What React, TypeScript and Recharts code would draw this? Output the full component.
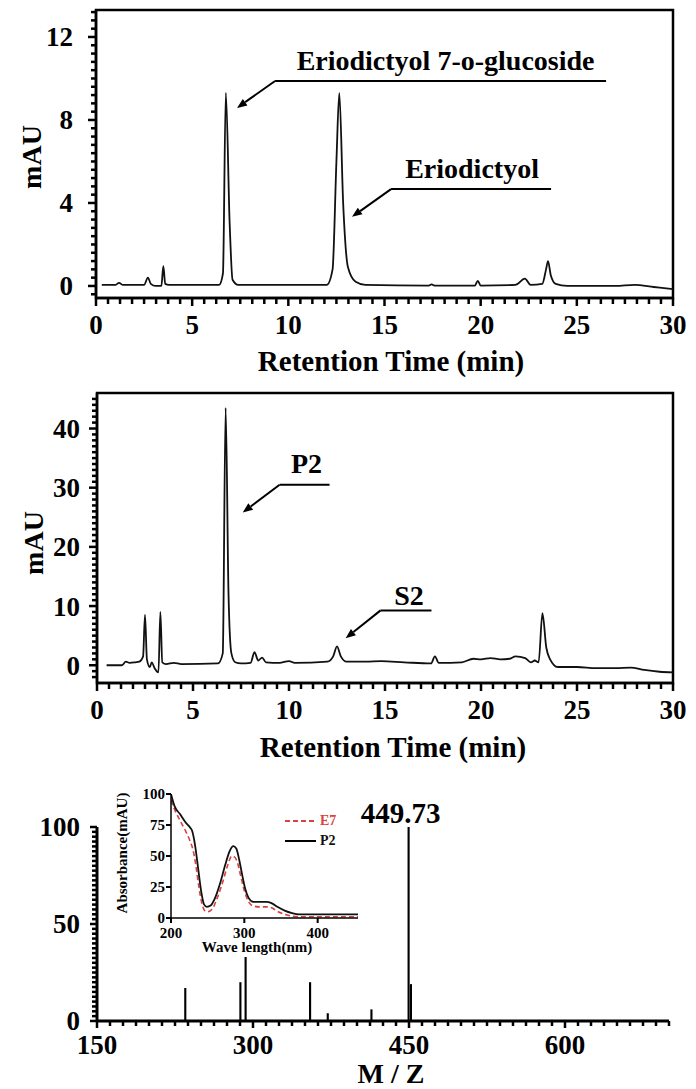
import React from "react";
import {
  LineChart,
  Line,
  BarChart,
  Bar,
  XAxis,
  YAxis,
  ReferenceArea,
  ReferenceLine,
  Legend,
} from "recharts";

const FONT = '"Liberation Serif", "Times New Roman", serif';

// standards run (E7 + eriodictyol)
const stdTime = [0.3, 1.0, 1.2, 1.4, 2.5, 2.7, 2.85, 3.1, 3.4, 3.5, 3.6, 3.8, 4.8, 6.4, 6.6, 6.75, 6.95, 7.1, 7.4, 12.0, 12.3, 12.5, 12.65, 12.85, 13.1, 13.5, 14.0, 17.3, 17.45, 17.6, 19.7, 19.85, 20.0, 21.8, 22.3, 22.6, 23.2, 23.4, 23.5, 23.65, 23.9, 24.5, 27.0, 28.0, 29.0, 30.0];
const stdMau = [0.05, 0.05, 0.15, 0.05, 0.05, 0.4, 0.1, 0.0, 0.0, 0.95, 0.1, 0.05, 0.05, 0.05, 0.6, 9.3, 3.0, 0.3, 0.05, 0.05, 0.8, 6.0, 9.3, 4.0, 0.9, 0.2, 0.05, 0.02, 0.08, 0.02, 0.02, 0.25, 0.02, 0.05, 0.35, 0.05, 0.1, 0.8, 1.2, 0.5, 0.1, 0.0, 0.0, 0.05, -0.05, -0.15];

// sample run (P2 / S2)
const smpTime = [0.5, 1.3, 1.5, 1.7, 2.0, 2.2, 2.4, 2.5, 2.6, 2.75, 2.85, 3.0, 3.2, 3.3, 3.4, 3.6, 4.0, 4.4, 6.3, 6.55, 6.7, 6.85, 7.0, 7.2, 7.5, 8.0, 8.2, 8.4, 8.6, 8.8, 9.5, 10.0, 10.3, 12.0, 12.3, 12.5, 12.7, 13.0, 14.0, 14.8, 16.0, 17.4, 17.6, 17.8, 19.0, 19.6, 20.0, 20.5, 21.0, 21.5, 21.8, 22.3, 22.6, 22.8, 23.0, 23.2, 23.4, 23.6, 24.0, 25.0, 26.0, 27.0, 27.8, 28.5, 29.3, 30.0];
const smpMau = [0.0, 0.0, 0.6, 0.4, 0.5, 0.6, 1.5, 8.5, 1.0, -0.3, 0.5, -0.5, -1.2, 9.0, 0.5, 0.2, 0.4, 0.2, 0.3, 2.0, 43.5, 12.0, 2.0, 0.5, 0.3, 0.4, 2.2, 0.8, 1.3, 0.5, 0.4, 0.7, 0.4, 0.6, 1.5, 3.2, 1.5, 0.6, 0.6, 0.7, 0.5, 0.3, 1.5, 0.4, 0.5, 1.1, 1.0, 1.2, 1.0, 1.1, 1.5, 1.2, 0.5, 0.8, 0.5, 8.8, 3.0, 1.0, -0.3, -0.3, -0.5, -0.5, -0.4, -0.8, -1.1, -1.2];

// mass spectrum
const msMz = [235, 288, 293, 355, 372, 414, 449.73, 452];
const msRel = [17, 20, 33, 20, 4, 6, 100, 19];

// inset UV spectra
const p2Wave = [200, 205, 212, 220, 226, 229, 233, 237, 241, 245, 249, 254, 260, 267, 274, 280, 285, 289, 293, 297, 301, 306, 312, 320, 330, 337, 345, 355, 365, 375, 390, 455];
const p2Abs = [100, 90, 84, 77, 73, 70, 58, 40, 22, 11, 9, 10, 16, 28, 43, 54, 58, 56, 47, 35, 24, 16, 13, 13, 13, 12, 9, 6, 4, 3, 3, 3];
const e7Wave = [200, 206, 212, 220, 226, 230, 234, 238, 242, 246, 250, 256, 263, 270, 277, 283, 287, 291, 295, 300, 305, 311, 320, 330, 338, 346, 355, 365, 380, 455];
const e7Abs = [95, 86, 79, 70, 62, 55, 42, 25, 12, 6, 5, 7, 16, 28, 42, 50, 49, 44, 34, 22, 14, 10, 9, 9, 8, 5, 3, 1.5, 1, 1];

const rtTicks = [0, 5, 10, 15, 20, 25, 30];
const stdYTicks = [0, 4, 8, 12];
const smpYTicks = [0, 10, 20, 30, 40];
const msXTicks = [150, 300, 450, 600];
const msYTicks = [0, 50, 100];
const uvXTicks = [200, 300, 400];
const uvYTicks = [0, 25, 50, 75, 100];

const uvSeries = [
  { name: "E7", color: "#d9433f", dash: "5 3" },
  { name: "P2", color: "#000", dash: undefined as string | undefined },
];

const stdData = stdTime.map((t, i) => ({ t, v: stdMau[i] }));
const smpData = smpTime.map((t, i) => ({ t, v: smpMau[i] }));
const msData = msMz.map((mz, i) => ({ mz, rel: msRel[i] }));
const p2Data = p2Wave.map((w, i) => ({ w, a: p2Abs[i] }));
const e7Data = e7Wave.map((w, i) => ({ w, a: e7Abs[i] }));

function steps(from: number, to: number, step: number) {
  const out: number[] = [];
  for (let v = from; v <= to + 1e-9; v += step) out.push(Math.round(v * 1000) / 1000);
  return out;
}
const merge = (a: number[], b: number[]) =>
  Array.from(new Set([...a, ...b])).sort((x, y) => x - y);
const isIn = (list: number[], v: number) => list.some((m) => Math.abs(m - v) < 1e-6);

const labelTick = (anchor: "end" | "middle", dy: string, fs: number) => (p: any) => (
  <text x={p.x} y={p.y} dy={dy} textAnchor={anchor} fontFamily={FONT} fontWeight="bold" fontSize={fs} fill="#000">
    {p.payload.value}
  </text>
);

// tick marks drawn as short reference lines hanging off the plot edge
const xMarks = (values: number[], major: number[], big: number, small: number, w: number) =>
  values.map((v) => (
    <ReferenceLine
      key={"xm" + v}
      x={v}
      ifOverflow="visible"
      shape={(p: any) => {
        const yb = Math.max(p.y1, p.y2);
        const len = isIn(major, v) ? big : small;
        return <line x1={p.x1} x2={p.x1} y1={yb} y2={yb + len} stroke="#000" strokeWidth={w} />;
      }}
    />
  ));
const yMarks = (values: number[], major: number[], big: number, small: number, w: number) =>
  values.map((v) => (
    <ReferenceLine
      key={"ym" + v}
      y={v}
      ifOverflow="visible"
      shape={(p: any) => {
        const xl = Math.min(p.x1, p.x2);
        const len = isIn(major, v) ? big : small;
        return <line x1={xl - len} x2={xl} y1={p.y1} y2={p.y1} stroke="#000" strokeWidth={w} />;
      }}
    />
  ));

const title = (text: string, x: number, y: number, fs: number, rotate = false) => ({
  value: text,
  content: () => (
    <text
      transform={rotate ? `translate(${x},${y}) rotate(-90)` : `translate(${x},${y})`}
      textAnchor="middle"
      dy={rotate ? "0.35em" : 0}
      fontFamily={FONT}
      fontWeight="bold"
      fontSize={fs}
      fill="#000"
    >
      {text}
    </text>
  ),
});

const arrowShape = (p: any) => {
  const { x1, y1, x2, y2 } = p;
  const a = Math.atan2(y2 - y1, x2 - x1);
  const L = 10;
  const W = 4;
  const bx = x2 - L * Math.cos(a);
  const by = y2 - L * Math.sin(a);
  const pts = `${x2},${y2} ${bx - W * Math.sin(a)},${by + W * Math.cos(a)} ${bx + W * Math.sin(a)},${by - W * Math.cos(a)}`;
  return (
    <g>
      <line x1={x1} y1={y1} x2={bx} y2={by} stroke="#000" strokeWidth={2} />
      <polygon points={pts} fill="#000" />
    </g>
  );
};

const shelfShape = (text: string, dx: number, dy: number) => (p: any) => (
  <g>
    <line x1={p.x1} y1={p.y1} x2={p.x2} y2={p.y2} stroke="#000" strokeWidth={2} />
    <text x={(p.x1 + p.x2) / 2 + dx} y={p.y1 - dy} textAnchor="middle" fontFamily={FONT} fontWeight="bold" fontSize={28} fill="#000">
      {text}
    </text>
  </g>
);

type Note = { text: string; x1: number; x2: number; y: number; tipX: number; tipY: number; dx: number; dy: number };

const stdNotes: Note[] = [
  { text: "Eriodictyol 7-o-glucoside", x1: 9.31, x2: 26.52, y: 9.88, tipX: 7.33, tipY: 8.58, dx: 5, dy: 11 },
  { text: "Eriodictyol", x1: 15.34, x2: 23.66, y: 4.67, tipX: 13.31, tipY: 3.33, dx: 1, dy: 11 },
];
const smpNotes: Note[] = [
  { text: "P2", x1: 9.51, x2: 12.11, y: 30.5, tipX: 7.59, tipY: 25.8, dx: 2, dy: 12 },
  { text: "S2", x1: 14.77, x2: 17.42, y: 9.27, tipX: 12.95, tipY: 4.55, dx: 3, dy: 5 },
];

const renderNotes = (notes: Note[]) =>
  notes.flatMap((n) => [
    <ReferenceLine key={n.text + "s"} segment={[{ x: n.x1, y: n.y }, { x: n.x2, y: n.y }]} shape={shelfShape(n.text, n.dx, n.dy)} />,
    <ReferenceLine key={n.text + "a"} segment={[{ x: n.x1, y: n.y }, { x: n.tipX, y: n.tipY }]} shape={arrowShape} />,
  ]);

const rtMinor = steps(0, 30, 0.625);

function Chromatogram(props: {
  data: { t: number; v: number }[];
  top: number;
  height: number;
  marginTop: number;
  yWidth: number;
  xHeight: number;
  yDomain: [number, number];
  yMajor: number[];
  yMinor: number[];
  yGap: number;
  notes: Note[];
  titlePos: [number, number];
  mauPos: [number, number];
}) {
  const p = props;
  return (
    <div style={{ position: "absolute", left: 0, top: p.top }}>
      <LineChart width={696} height={p.height} data={p.data} margin={{ top: p.marginTop, right: 696 - 673, bottom: 0, left: 0 }}>
        <XAxis
          dataKey="t"
          type="number"
          domain={[0, 30]}
          allowDataOverflow
          ticks={rtTicks}
          interval={0}
          tickLine={false}
          tickSize={6}
          tickMargin={11}
          tick={labelTick("middle", "0.71em", 27)}
          axisLine={{ stroke: "#000", strokeWidth: 2.5 }}
          height={p.xHeight}
          label={title("Retention Time (min)", p.titlePos[0], p.titlePos[1], 29)}
        />
        <YAxis
          type="number"
          domain={p.yDomain}
          allowDataOverflow
          ticks={p.yMajor}
          interval={0}
          tickLine={false}
          tickSize={6}
          tickMargin={p.yGap}
          tick={labelTick("end", "0.35em", 27)}
          axisLine={{ stroke: "#000", strokeWidth: 2.5 }}
          width={p.yWidth}
          label={title("mAU", p.mauPos[0], p.mauPos[1], 28, true)}
        />
        {xMarks(merge(rtTicks, rtMinor), rtTicks, 8, 6, 2.5)}
        {yMarks(merge(p.yMajor, p.yMinor), p.yMajor, 8, 5, 2.5)}
        <ReferenceArea x1={0} x2={30} y1={p.yDomain[0]} y2={p.yDomain[1]} fill="none" stroke="#000" strokeWidth={2.5} />
        <Line type="monotone" dataKey="v" stroke="#111" strokeWidth={1.8} dot={false} isAnimationActive={false} />
        {renderNotes(p.notes)}
      </LineChart>
    </div>
  );
}

const uvLegend = () => (
  <div style={{ fontFamily: FONT, fontWeight: "bold", fontSize: 14, lineHeight: "20px" }}>
    {uvSeries.map((s) => (
      <div key={s.name} style={{ display: "flex", alignItems: "center", height: 20 }}>
        <svg width={34} height={20}>
          <line x1={2} x2={33} y1={10} y2={10} stroke={s.color} strokeWidth={2} strokeDasharray={s.dash} />
        </svg>
        <span style={{ color: s.color === "#000" ? "#111" : s.color, marginLeft: 3 }}>{s.name}</span>
      </div>
    ))}
  </div>
);

export default function App() {
  const mainIdx = msRel.indexOf(Math.max(...msRel));
  return (
    <div style={{ position: "absolute", left: 0, top: 0, width: 696, height: 1089, background: "#fff", overflow: "hidden" }}>
      <Chromatogram
        data={stdData}
        top={0}
        height={385}
        marginTop={10}
        yWidth={96}
        xHeight={87}
        yDomain={[-0.58, 13.3]}
        yMajor={stdYTicks}
        yMinor={steps(-0.4, 13.2, 0.4)}
        yGap={17}
        notes={stdNotes}
        titlePos={[391, 371]}
        mauPos={[31, 157]}
      />
      <Chromatogram
        data={smpData}
        top={380}
        height={395}
        marginTop={13}
        yWidth={97}
        xHeight={92}
        yDomain={[-3, 46]}
        yMinor={steps(-2, 45, 1)}
        yMajor={smpYTicks}
        yGap={11}
        notes={smpNotes}
        titlePos={[393, 377]}
        mauPos={[33, 163]}
      />

      <div style={{ position: "absolute", left: 0, top: 760 }}>
        <BarChart width={696} height={329} data={msData} margin={{ top: 67, right: 27, bottom: 0, left: 0 }}>
          <XAxis
            dataKey="mz"
            type="number"
            domain={[150, 700]}
            allowDataOverflow
            ticks={msXTicks}
            interval={0}
            tickLine={false}
            tickSize={5}
            tickMargin={9}
            tick={labelTick("middle", "0.71em", 27)}
            axisLine={{ stroke: "#000", strokeWidth: 3 }}
            height={68}
            label={title("M / Z", 391, 323, 28)}
          />
          <YAxis
            type="number"
            domain={[0, 100]}
            allowDataOverflow
            ticks={msYTicks}
            interval={0}
            tickLine={false}
            tickSize={5}
            tickMargin={12}
            tick={labelTick("end", "0.35em", 27)}
            axisLine={{ stroke: "#000", strokeWidth: 3 }}
            width={97}
          />
          {xMarks(merge(msXTicks, steps(150, 700, 12.5)), msXTicks, 7, 5, 2.5)}
          {yMarks(merge(msYTicks, steps(0, 100, 2.5)), msYTicks, 7, 5, 2.5)}
          <Bar
            dataKey="rel"
            fill="#000"
            barSize={3}
            isAnimationActive={false}
            label={(lp: any) =>
              lp.index === mainIdx ? (
                <text x={lp.x + lp.width / 2 - 8} y={lp.y - 4} textAnchor="middle" fontFamily={FONT} fontWeight="bold" fontSize={29} fill="#000">
                  {msMz[lp.index].toFixed(2)}
                </text>
              ) : (
                <g />
              )
            }
          />
        </BarChart>
      </div>

      <div style={{ position: "absolute", left: 100, top: 770 }}>
        <LineChart width={270} height={200} margin={{ top: 24, right: 12, bottom: 0, left: 0 }}>
          <XAxis
            dataKey="w"
            type="number"
            domain={[200, 455]}
            allowDataOverflow
            ticks={uvXTicks}
            interval={0}
            tickLine={false}
            tickSize={4}
            tickMargin={5}
            tick={labelTick("middle", "0.71em", 15)}
            axisLine={{ stroke: "#000", strokeWidth: 1.5 }}
            height={52}
            label={title("Wave length(nm)", 157, 182, 15)}
          />
          <YAxis
            type="number"
            domain={[0, 100]}
            allowDataOverflow
            ticks={uvYTicks}
            interval={0}
            tickLine={false}
            tickSize={4}
            tickMargin={2}
            tick={labelTick("end", "0.35em", 15)}
            axisLine={{ stroke: "#000", strokeWidth: 1.5 }}
            width={71}
            label={title("Absorbance(mAU)", 22, 83, 15, true)}
          />
          {xMarks(uvXTicks, uvXTicks, 5, 5, 2)}
          {yMarks(uvYTicks, uvYTicks, 5, 5, 2)}
          <Legend
            layout="horizontal"
            verticalAlign="middle"
            align="center"
            content={uvLegend}
            wrapperStyle={{ left: 183, top: 41, width: 80 }}
          />
          <Line data={e7Data} dataKey="a" name="E7" type="monotone" stroke={uvSeries[0].color} strokeWidth={1.6} strokeDasharray={uvSeries[0].dash} dot={false} isAnimationActive={false} />
          <Line data={p2Data} dataKey="a" name="P2" type="monotone" stroke="#111" strokeWidth={1.8} dot={false} isAnimationActive={false} />
        </LineChart>
      </div>
    </div>
  );
}
